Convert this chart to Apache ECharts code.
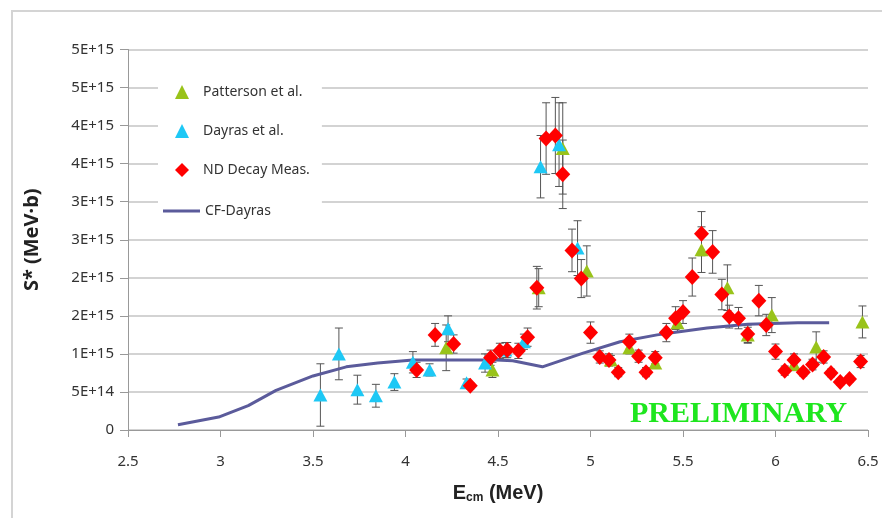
<!DOCTYPE html>
<html>
<head>
<meta charset="utf-8">
<script src="https://cdn.jsdelivr.net/npm/echarts@6/dist/echarts.min.js"></script>
<style>html,body{margin:0;padding:0;background:#fff;}#c{width:882px;height:518px;}</style>
</head>
<body>
<div id="c"></div>
<script>
// Values of S* are in units of 1e15 MeV·b
const yTickLabels = ['0','5E+14','1E+15','2E+15','2E+15','3E+15','3E+15','4E+15','4E+15','5E+15','5E+15'];
const xTickLabels = ['2.5','3','3.5','4','4.5','5','5.5','6','6.5'];

const pattersonE   = [4.22, 4.47, 4.72, 4.85, 4.98, 5.11, 5.21, 5.35, 5.47, 5.60, 5.74, 5.85, 5.98, 6.10, 6.22, 6.47];
const pattersonS   = [1.08, 0.79, 1.87, 3.70, 2.09, 0.92, 1.08, 0.88, 1.41, 2.37, 1.87, 1.25, 1.51, 0.86, 1.09, 1.42];
const pattersonErr = [0.30, 0.10, 0.25, 0.60, 0.33, 0.06, 0.08, 0.06, 0.12, 0.30, 0.30, 0.10, 0.23, 0.08, 0.20, 0.21];

const dayrasE   = [3.54, 3.64, 3.74, 3.84, 3.94, 4.04, 4.13, 4.23, 4.33, 4.43, 4.54, 4.64, 4.73, 4.83, 4.93];
const dayrasS   = [0.46, 1.00, 0.53, 0.45, 0.63, 0.89, 0.79, 1.33, 0.62, 0.88, 1.05, 1.16, 3.46, 3.75, 2.39];
const dayrasErr = [0.41, 0.34, 0.19, 0.15, 0.11, 0.14, 0.08, 0.17, 0.05, 0.12, 0.10, 0.10, 0.41, 0.55, 0.36];

const ndE   = [4.06, 4.16, 4.26, 4.35, 4.46, 4.51, 4.55, 4.61, 4.66, 4.71, 4.76, 4.81, 4.85, 4.90, 4.95, 5.00,
               5.05, 5.10, 5.15, 5.21, 5.26, 5.30, 5.35, 5.41, 5.46, 5.50, 5.55, 5.60, 5.66, 5.71, 5.75, 5.80,
               5.85, 5.91, 5.95, 6.00, 6.05, 6.10, 6.15, 6.20, 6.26, 6.30, 6.35, 6.40, 6.46];
const ndS   = [0.79, 1.25, 1.13, 0.58, 0.95, 1.04, 1.05, 1.04, 1.22, 1.87, 3.83, 3.87, 3.36, 2.36, 1.99, 1.28,
               0.96, 0.92, 0.76, 1.16, 0.97, 0.76, 0.95, 1.28, 1.47, 1.55, 2.01, 2.58, 2.34, 1.78, 1.49, 1.47,
               1.26, 1.70, 1.38, 1.03, 0.78, 0.92, 0.76, 0.86, 0.96, 0.75, 0.63, 0.67, 0.90];
const ndErr = [0.10, 0.15, 0.12, 0.04, 0.10, 0.10, 0.10, 0.10, 0.12, 0.28, 0.47, 0.50, 0.45, 0.28, 0.25, 0.14,
               0.08, 0.08, 0.06, 0.10, 0.08, 0.06, 0.08, 0.12, 0.15, 0.15, 0.25, 0.29, 0.28, 0.20, 0.15, 0.14,
               0.12, 0.20, 0.14, 0.10, 0.06, 0.08, 0.05, 0.07, 0.08, 0.05, 0.04, 0.04, 0.08];

const cfE = [2.77, 2.99, 3.15, 3.30, 3.50, 3.68, 3.85, 4.04, 4.22, 4.49, 4.58, 4.74, 4.96, 5.16, 5.36, 5.48, 5.63, 5.85, 6.12, 6.29];
const cfS = [0.07, 0.17, 0.32, 0.52, 0.71, 0.83, 0.88, 0.92, 0.92, 0.92, 0.91, 0.83, 1.01, 1.16, 1.25, 1.29, 1.34, 1.39, 1.41, 1.41];

const zip2 = (a, b) => a.map((v, i) => [v, b[i]]);
const zip3 = (a, b, c) => a.map((v, i) => [v, b[i], c[i]]);

function renderErr(params, api) {
  const x = api.value(0), y = api.value(1), e = api.value(2);
  const hi = api.coord([x, y + e]), lo = api.coord([x, y - e]);
  const w = 4;
  const st = {stroke: '#555', lineWidth: 1};
  return {type: 'group', children: [
    {type: 'line', shape: {x1: hi[0], y1: hi[1], x2: lo[0], y2: lo[1]}, style: st},
    {type: 'line', shape: {x1: hi[0] - w, y1: hi[1], x2: hi[0] + w, y2: hi[1]}, style: st},
    {type: 'line', shape: {x1: lo[0] - w, y1: lo[1], x2: lo[0] + w, y2: lo[1]}, style: st}
  ]};
}
function errSeries(data) {
  return {type: 'custom', renderItem: renderErr, data: data, encode: {x: 0, y: 1}, z: 1, silent: true};
}

const legendText = {fontSize: 14, color: '#333', fontFamily: 'Noto Sans', padding: [0, 0, 0, 9]};

const chart = echarts.init(document.getElementById('c'));
chart.setOption({
  animation: false,
  backgroundColor: '#fff',
  textStyle: {fontFamily: 'Noto Sans'},
  grid: {left: 128, right: 14, top: 49.5, bottom: 88},
  graphic: [
    {type: 'rect', shape: {x: 12, y: 11, width: 900, height: 600}, style: {fill: 'none', stroke: '#d4d4d4', lineWidth: 2}, silent: true, z: -1},
    {type: 'text', left: 630, top: 399, style: {text: 'PRELIMINARY', font: 'bold 30px "Liberation Serif"', fill: '#1ee61e'}, z: 10}
  ],
  legend: [{
    orient: 'vertical', left: 158, top: 79,
    padding: [6, 12, 50, 17], itemGap: 25, itemWidth: 14, itemHeight: 14,
    backgroundColor: '#fff',
    textStyle: legendText,
    data: ['Patterson et al.', 'Dayras et al.', 'ND Decay Meas.']
  }, {
    orient: 'vertical', left: 158, top: 199,
    padding: [5, 5, 5, 5], itemWidth: 37, itemHeight: 3,
    icon: 'rect',
    textStyle: {fontSize: 14, color: '#333', fontFamily: 'Noto Sans', padding: [0, 0, 0, 0]},
    data: ['CF-Dayras']
  }],
  xAxis: {
    type: 'value', min: 2.5, max: 6.5, interval: 0.5,
    axisLine: {show: true, lineStyle: {color: '#999', width: 1}},
    axisTick: {show: true, length: 7, lineStyle: {color: '#999'}},
    splitLine: {show: false},
    axisLabel: {margin: 24, fontSize: 15, color: '#333',
      formatter: v => xTickLabels[Math.round((v - 2.5) / 0.5)]},
    name: '{b|E}{s|cm}{b| (MeV)}', nameLocation: 'middle', nameGap: 52,
    nameTextStyle: {rich: {
      b: {fontSize: 20, fontWeight: 'bold', color: '#222', fontFamily: 'Liberation Sans Narrow, Liberation Sans'},
      s: {fontSize: 12, fontWeight: 'bold', color: '#222', verticalAlign: 'bottom', padding: [10, 0, 0, 0], fontFamily: 'Liberation Sans Narrow, Liberation Sans'}
    }}
  },
  yAxis: {
    type: 'value', min: 0, max: 5, interval: 0.5,
    axisLine: {show: true, lineStyle: {color: '#999', width: 1}},
    axisTick: {show: true, length: 8, lineStyle: {color: '#999'}},
    splitLine: {show: true, lineStyle: {color: '#c4c4c4', width: 1.5}},
    axisLabel: {margin: 14, fontSize: 15, color: '#333',
      formatter: v => yTickLabels[Math.round(v / 0.5)]},
    name: 'S* (MeV·b)', nameLocation: 'middle', nameGap: 86, nameRotate: 90,
    nameTextStyle: {fontSize: 20, fontWeight: 'bold', color: '#222'}
  },
  series: [
    errSeries(zip3(pattersonE, pattersonS, pattersonErr)),
    errSeries(zip3(dayrasE, dayrasS, dayrasErr)),
    errSeries(zip3(ndE, ndS, ndErr)),
    {name: 'CF-Dayras', type: 'line', data: zip2(cfE, cfS), symbol: 'none', smooth: false,
     lineStyle: {color: '#5b5b9b', width: 3}, itemStyle: {color: '#5b5b9b'}, z: 2},
    {name: 'Patterson et al.', type: 'scatter', data: zip2(pattersonE, pattersonS), symbol: 'triangle', symbolSize: [14, 13],
     itemStyle: {color: '#99c31a', opacity: 1}, z: 3},
    {name: 'Dayras et al.', type: 'scatter', data: zip2(dayrasE, dayrasS), symbol: 'triangle', symbolSize: [14, 13],
     itemStyle: {color: '#1ec8f5', opacity: 1}, z: 3},
    {name: 'ND Decay Meas.', type: 'scatter', data: zip2(ndE, ndS), symbol: 'diamond', symbolSize: [15, 16],
     itemStyle: {color: '#ff0000', opacity: 1}, z: 4}
  ]
});
</script>
</body>
</html>
